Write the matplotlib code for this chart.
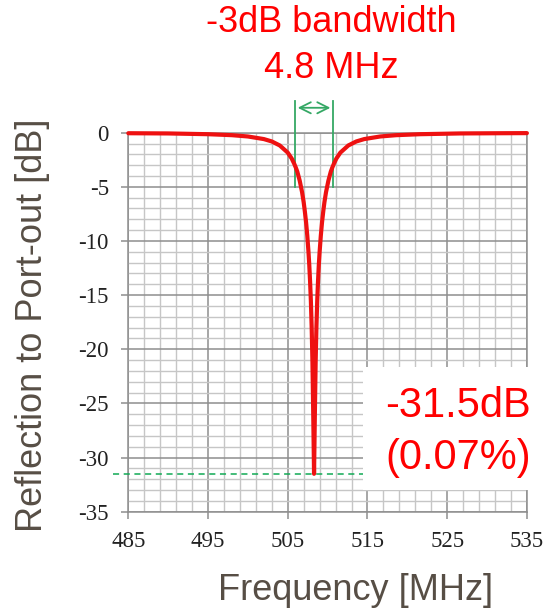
import matplotlib
matplotlib.use("Agg")
import matplotlib.pyplot as plt
from matplotlib.patches import Rectangle

plt.rcParams["axes.unicode_minus"] = False

# datos
freq = [485, 490, 495, 498, 500, 502, 503, 504, 505, 505.5, 505.8, 506, 506.2, 506.5,
        506.8, 507, 507.15, 507.3, 507.45, 507.6, 507.7, 507.8, 507.9, 508.0, 508.1, 508.2,
        508.3,
        508.4, 508.5, 508.6, 508.7, 508.8, 508.9, 509.0, 509.15, 509.3, 509.45, 509.6, 509.8,
        510.1, 510.4, 510.6, 510.8, 511.1, 511.6, 512.6, 513.6, 514.6, 516.6, 518.6, 521.6,
        526.6, 531.6, 535]
refl = [-0.05, -0.07, -0.14, -0.23, -0.35, -0.59, -0.81, -1.18, -1.84, -2.39, -2.85, -3.2, -3.6, -4.43,
        -5.5, -6.43, -7.3, -8.28, -9.5, -11.0, -12.2, -13.7, -15.5, -17.9, -21.2, -26.1,
        -31.5,
        -26.1, -21.2, -17.9, -15.5, -13.7, -12.2, -11.0, -9.5, -8.28, -7.3, -6.43, -5.5,
        -4.43, -3.6, -3.2, -2.85, -2.39, -1.84, -1.18, -0.81, -0.59, -0.35, -0.23, -0.14,
        -0.07, -0.05, -0.04]
bw_edges = [505.9, 510.7]   # -3dB
min_db = -31.5
xticks = [485, 495, 505, 515, 525, 535]
yticks = [0, -5, -10, -15, -20, -25, -30, -35]

sans = ["Liberation Sans", "DejaVu Sans"]
label_col = "#574e45"
verde = "#35a865"

fig = plt.figure(figsize=(5.46, 6.14), dpi=100)
ax = fig.add_axes([0.235, 0.1666, 0.73, 0.6173])

ax.set_xlim(485, 535)
ax.set_ylim(-35, 0)
ax.set_xticks(xticks)
ax.set_yticks(yticks)
ax.set_xticks(range(485, 536, 2), minor=True)
ax.set_yticks(range(-35, 1, 1), minor=True)
ax.grid(which="minor", color="#c6c6c6", lw=1.0)
ax.grid(which="major", color="#8e8e8e", lw=1.1)
ax.set_axisbelow(True)
for s in ax.spines.values():
    s.set_color("#8e8e8e")
    s.set_linewidth(1.1)
ax.tick_params(which="minor", length=0)
ax.tick_params(which="major", direction="out", length=5, width=1.1, color="#8e8e8e",
               labelsize=16.5, labelcolor="#222222", pad=9)
for t in ax.get_xticklabels() + ax.get_yticklabels():
    t.set_family(["Liberation Serif", "DejaVu Serif"])

# curva
ax.plot(freq, refl, color="#ee1111", lw=3, solid_capstyle="round", solid_joinstyle="round",
        clip_on=False, zorder=5)

# ancho de banda -3dB
for f in bw_edges:
    ax.plot([f, f], [-5, 2.9], color=verde, lw=1.3, clip_on=False, zorder=4)
ax.annotate("", xy=(bw_edges[0], 2.3), xytext=(bw_edges[1], 2.3),
            arrowprops=dict(arrowstyle="<->", color=verde, lw=1.3, mutation_scale=20),
            annotation_clip=False)

# linea del minimo
ax.plot([483.1, 520], [min_db, min_db], color="#11aa55", lw=1.1, ls=(0, (4, 3)),
        clip_on=False, zorder=4)

# caja blanca con texto
fig.patches.append(Rectangle((363 / 546, 1 - 490 / 614), 1 - 363 / 546, 123 / 614,
                             transform=fig.transFigure, facecolor="white",
                             edgecolor="none", zorder=10))
fig.text(0.972, 1 - 406 / 614, "-31.5dB", color="#ff0000", fontsize=30, family=sans,
         ha="right", va="center", zorder=11)
fig.text(0.972, 1 - 458 / 614, "(0.07%)", color="#ff0000", fontsize=30, family=sans,
         ha="right", va="center", zorder=11)

# titulo
fig.text(331 / 546, 1 - 22 / 614, "-3dB bandwidth", color="#ff0000", fontsize=26,
         family=sans, ha="center", va="center")
fig.text(331 / 546, 1 - 68 / 614, "4.8 MHz", color="#ff0000", fontsize=26,
         family=sans, ha="center", va="center")

fig.text(33 / 546, 1 - 325 / 614, "Reflection to Port-out [dB]", rotation=90,
         color=label_col, fontsize=26, family=sans, ha="center", va="center")
fig.text(356 / 546, 1 - 590 / 614, "Frequency [MHz]", color=label_col, fontsize=26,
         family=sans, ha="center", va="center")

fig.savefig("out.png", dpi=100)
